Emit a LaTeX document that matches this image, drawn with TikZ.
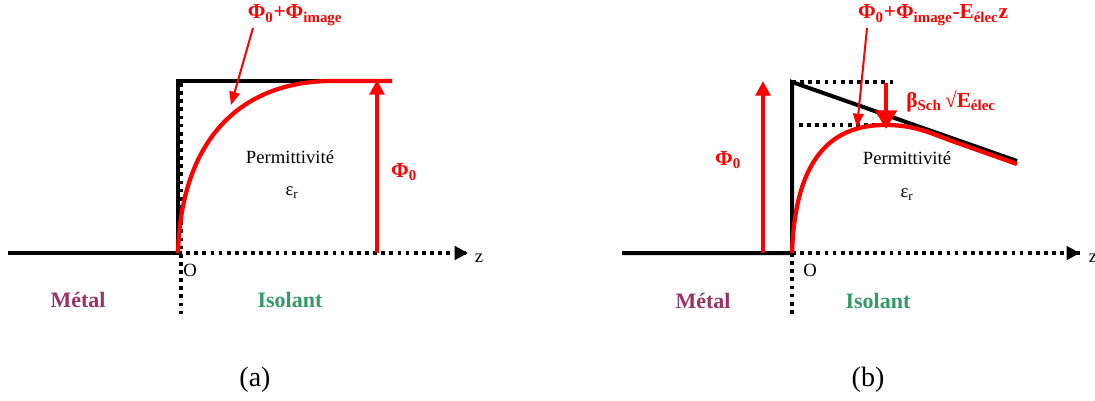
\documentclass[tikz,border=0pt]{standalone}
\usepackage{fontspec}
\setmainfont{Liberation Serif}
\usetikzlibrary{arrows.meta}

\definecolor{metalc}{RGB}{153,51,102}
\definecolor{isolc}{RGB}{51,153,102}

\begin{document}
\begin{tikzpicture}[x=0.75pt,y=-0.75pt,
  band/.style={line width=3pt,black},
  axe/.style={line width=2.6pt,dash pattern=on 2.8pt off 3.3pt,-{Triangle[length=10pt,width=10pt]}},
  cut/.style={line width=2.6pt,dash pattern=on 2.8pt off 3.3pt},
  pot/.style={line width=3.2pt,red},
  fleche/.style={line width=1.5pt,red,-{Triangle[length=10pt,width=8pt]}},
  grosse/.style={line width=3pt,red,-{Triangle[length=11pt,width=11pt]}},
  lab/.style={font=\fontsize{16}{18}\selectfont\bfseries,text=red,inner sep=1pt},
  txt/.style={font=\fontsize{14}{16}\selectfont,inner sep=1pt},
  zone/.style={font=\fontsize{16.5}{18}\selectfont\bfseries,inner sep=1pt},
  legende/.style={font=\fontsize{21}{23}\selectfont,inner sep=1pt}]

  \useasboundingbox (0,0) rectangle (1095,400);

  % ================= (a) =================
  \coordinate (Ma) at (8,253);
  \coordinate (Oa) at (178,253);
  \coordinate (Za) at (468,253);
  \coordinate (Ta) at (178,81);
  \coordinate (Ua) at (181,83);
  \coordinate (Ba) at (181,317);
  \coordinate (Ca) at (330,81);
  \coordinate (Ea) at (392,81);
  \coordinate (Pa) at (377,253);
  \coordinate (Qa) at (377,80);
  \coordinate (Sa) at (253,28);
  \coordinate (Ia) at (231,105);

  \draw[cut] (Oa) -- (Za);
  \draw[axe] (Oa) -- (Za);
  \draw[cut] (Ua) -- (Ba);
  \draw[band] (Ma) -- (Oa);
  \draw[band] (Oa) -- (Ta) -- (Ca);
  \draw[pot] (Oa) .. controls (181,140) and (240,82) .. (Ca) -- (Ea);
  \draw[grosse] (Pa) -- (Qa);
  \draw[fleche] (Sa) -- (Ia);

  \node[lab] (suma) at (295,15) {Φ\textsubscript{0}+Φ\textsubscript{image}};
  \node[lab] (phia) at (404,172) {Φ\textsubscript{0}};
  \node[txt] (perma) at (290,157) {Permittivité};
  \node[txt] (epsa) at (292,193) {ε\textsubscript{r}};
  \node[txt] (oa) at (190,270) {O};
  \node[txt] (za) at (479,258) {z};
  \node[zone,text=metalc] (meta) at (78,300) {Métal};
  \node[zone,text=isolc] (isoa) at (290,300) {Isolant};
  \node[legende] (capa) at (255,380) {(a)};

  % ================= (b) =================
  \coordinate (Mb) at (622,253);
  \coordinate (Ob) at (792,253);
  \coordinate (Zb) at (1080,253);
  \coordinate (Bb) at (792,317);
  \coordinate (Tb) at (792,82);
  \coordinate (Db) at (897,82);
  \coordinate (Lb) at (799,125);
  \coordinate (Kb) at (898,125);
  \coordinate (Fb) at (1017,161);
  \coordinate (Hb) at (885,125);
  \coordinate (Gb) at (952,141);
  \coordinate (Rb) at (1017,164);
  \coordinate (Pb) at (763,253);
  \coordinate (Qb) at (763,81);
  \coordinate (Xb) at (886,83);
  \coordinate (Yb) at (886,129);
  \coordinate (Sb) at (867,28);
  \coordinate (Ib) at (857,127);

  \draw[cut] (Ob) -- (Zb);
  \draw[axe] (Ob) -- (Zb);
  \draw[cut] (Ob) -- (Bb);
  \draw[cut] (Tb) -- (Db);
  \draw[cut] (Lb) -- (Kb);
  \draw[band] (Mb) -- (Ob) -- (Tb) -- (Fb);
  \draw[pot] (Ob) .. controls (795,160) and (830,125) .. (Hb)
    .. controls (915,125) and (930,133) .. (Gb) -- (Rb);
  \draw[grosse] (Pb) -- (Qb);
  \draw[line width=3.5pt,red,-{Triangle[length=14pt,width=16pt]}] (Xb) -- (Yb);
  \draw[fleche] (Sb) -- (Ib);

  \node[lab] (sumb) at (933,15) {Φ\textsubscript{0}+Φ\textsubscript{image}-E\textsubscript{élec}z};
  \node[lab] (betab) at (951,101) {β\textsubscript{Sch}\,√E\textsubscript{élec}};
  \node[lab] (phib) at (728,160) {Φ\textsubscript{0}};
  \node[txt] (permb) at (907,158) {Permittivité};
  \node[txt] (epsb) at (907,195) {ε\textsubscript{r}};
  \node[txt] (ob) at (810,270) {O};
  \node[txt] (zb) at (1093,258) {z};
  \node[zone,text=metalc] (metb) at (703,301) {Métal};
  \node[zone,text=isolc] (isob) at (878,301) {Isolant};
  \node[legende] (capb) at (868,380) {(b)};
\end{tikzpicture}
\end{document}
